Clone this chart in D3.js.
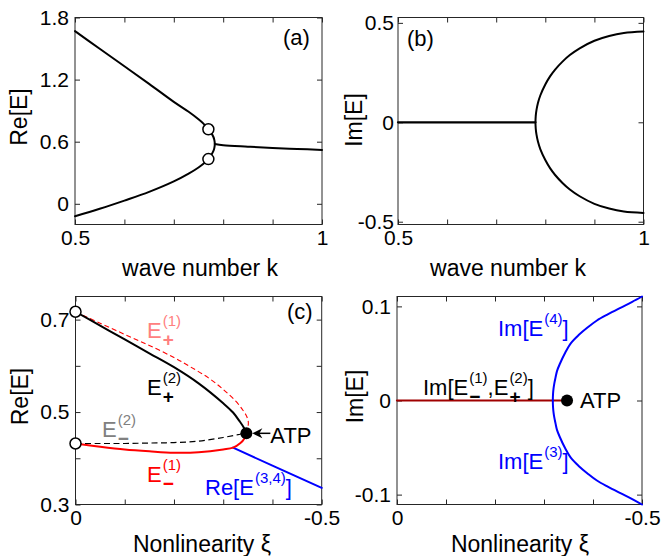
<!DOCTYPE html>
<html><head><meta charset="utf-8">
<script src="https://cdn.jsdelivr.net/npm/d3@7"></script>
<style>
body{margin:0;background:#fff}
svg text{font-family:"Liberation Sans",Arial,Helvetica,sans-serif}
</style>
</head><body>
<svg id="chart" width="665" height="556"></svg>
<script>
// ---------- Panel (a): Re[E] vs wave number k ----------
const kRe      = [0.5, 0.55, 0.6, 0.65, 0.7, 0.73, 0.75, 0.76, 0.77, 0.775, 0.78, 0.782, 0.783];
const reUpper  = [1.668, 1.498, 1.329, 1.159, 0.985, 0.889, 0.817, 0.775, 0.72, 0.69, 0.648, 0.618, 0.578];
const reLower  = [-0.12, -0.048, 0.031, 0.115, 0.216, 0.291, 0.351, 0.387, 0.432, 0.465, 0.508, 0.538, 0.578];
const kReMerged  = [0.783, 0.8, 0.85, 0.9, 0.95, 1.0];
const reMerged   = [0.578, 0.566, 0.552, 0.540, 0.530, 0.521];
const kMarked    = [0.77, 0.77];
const reMarked   = [0.72, 0.432];
const aYTicks = [0, 0.6, 1.2, 1.8];
const aYLabels = ["0", "0.6", "1.2", "1.8"];
const kTicks = [0.5, 0.6, 0.7, 0.8, 0.9, 1.0];
const kLabels = ["0.5", "", "", "", "", "1"];

// ---------- Panel (b): Im[E] vs wave number k ----------
const kImZero = [0.5, 0.78];
const imZero  = [0, 0];
const kIm     = [0.78, 0.7805, 0.782, 0.785, 0.79, 0.80, 0.81, 0.82, 0.835, 0.85, 0.87, 0.9, 0.93, 0.96, 1.0];
const imUpper = [0, 0.031, 0.061, 0.097, 0.136, 0.19, 0.232, 0.265, 0.305, 0.338, 0.372, 0.41, 0.434, 0.449, 0.456];
const imLower = [0, -0.031, -0.061, -0.097, -0.136, -0.19, -0.232, -0.265, -0.305, -0.338, -0.372, -0.41, -0.434, -0.449, -0.456];
const bYTicks = [-0.5, 0, 0.5];
const bYLabels = ["-0.5", "0", "0.5"];

// ---------- Panel (c): Re[E] vs nonlinearity xi ----------
const xiEp2 = [0, -0.05, -0.1, -0.15, -0.2, -0.25, -0.3, -0.32, -0.334, -0.342, -0.347];
const reEp2 = [0.717, 0.687, 0.657, 0.627, 0.597, 0.562, 0.519, 0.499, 0.479, 0.466, 0.454];
const xiEp1 = [0, -0.05, -0.1, -0.15, -0.2, -0.233, -0.27, -0.3, -0.325, -0.34, -0.348, -0.351, -0.35, -0.347];
const reEp1 = [0.717, 0.692, 0.668, 0.644, 0.618, 0.598, 0.574, 0.549, 0.524, 0.504, 0.49, 0.478, 0.466, 0.454];
const xiEm1 = [0, -0.05, -0.1, -0.15, -0.2, -0.25, -0.3, -0.32, -0.335, -0.343, -0.347];
const reEm1 = [0.432, 0.425, 0.419, 0.415, 0.412, 0.413, 0.419, 0.423, 0.433, 0.443, 0.454];
const xiEm2 = [0, -0.05, -0.1, -0.15, -0.2, -0.25, -0.3, -0.33, -0.343, -0.347];
const reEm2 = [0.432, 0.432, 0.432, 0.433, 0.434, 0.437, 0.445, 0.451, 0.454, 0.454];
const xiE34 = [-0.32, -0.4, -0.5];
const reE34 = [0.423, 0.384, 0.336];
const xiStart = [0, 0];
const reStart = [0.717, 0.432];
const xiATP = -0.347;
const reATP = 0.454;
const cYTicks = [0.3, 0.4, 0.5, 0.6, 0.7];
const cYLabels = ["0.3", "", "0.5", "", "0.7"];
const xiTicks = [0, -0.1, -0.2, -0.3, -0.4, -0.5];
const xiLabels = ["0", "", "", "", "", "-0.5"];

// ---------- Panel (d): Im[E] vs nonlinearity xi ----------
const xiImReal = [0, -0.342];
const imReal   = [0, 0];
const xiIm34 = [-0.5, -0.48, -0.456, -0.43, -0.408, -0.39, -0.3707, -0.355, -0.3435, -0.332, -0.3265, -0.3235, -0.321, -0.3195, -0.3185, -0.318];
const imE4   = [0.1105, 0.1048, 0.0985, 0.0915, 0.085, 0.078, 0.0695, 0.061, 0.051, 0.0385, 0.0312, 0.0243, 0.018, 0.0128, 0.0074, 0];
const imE3   = [-0.1105, -0.1048, -0.0985, -0.0915, -0.085, -0.078, -0.0695, -0.061, -0.051, -0.0385, -0.0312, -0.0243, -0.018, -0.0128, -0.0074, 0];
const dYTicks = [-0.1, 0, 0.1];
const dYLabels = ["-0.1", "0", "0.1"];

// ---------- drawing ----------
const svg = d3.select("#chart");
const AX = "#262626";
const TICK_FS = 21, TITLE_FS = 23, LABEL_FS = 22;

function panel(o) {
  const g = svg.append("g");
  const x = d3.scaleLinear().domain(o.xd).range([o.x0, o.x1]);
  const y = d3.scaleLinear().domain(o.yd).range([o.y1, o.y0]);
  const styleAxis = sel => {
    sel.select(".domain").remove();
    sel.selectAll("line").attr("stroke", AX).attr("stroke-width", 1);
    sel.selectAll("text").attr("font-size", TICK_FS).attr("fill", "#000")
      .attr("font-family", '"Liberation Sans",Arial,sans-serif');
  };
  g.append("g").attr("transform", `translate(0,${o.y1})`)
    .call(d3.axisBottom(x).tickValues(o.xt).tickFormat((d, i) => o.xl[i]).tickSizeInner(-5).tickSizeOuter(0).tickPadding(6))
    .call(styleAxis);
  g.append("g").attr("transform", `translate(0,${o.y0})`)
    .call(d3.axisTop(x).tickValues(o.xt).tickFormat("").tickSizeInner(-5).tickSizeOuter(0))
    .call(styleAxis);
  g.append("g").attr("transform", `translate(${o.x0},0)`)
    .call(d3.axisLeft(y).tickValues(o.yt).tickFormat((d, i) => o.yl[i]).tickSizeInner(-5).tickSizeOuter(0).tickPadding(o.yPad || 6))
    .call(styleAxis);
  g.append("g").attr("transform", `translate(${o.x1},0)`)
    .call(d3.axisRight(y).tickValues(o.yt).tickFormat("").tickSizeInner(-5).tickSizeOuter(0))
    .call(styleAxis);
  g.append("rect").attr("x", o.x0).attr("y", o.y0).attr("width", o.x1 - o.x0).attr("height", o.y1 - o.y0)
    .attr("fill", "none").attr("stroke", AX).attr("stroke-width", 1);
  g.append("text").attr("transform", `translate(${o.ytx},${(o.y0 + o.y1) / 2 + (o.ytdy || 0)}) rotate(-90)`)
    .attr("text-anchor", "middle").attr("font-size", TITLE_FS).text(o.ytitle);
  g.append("text").attr("x", o.xtx).attr("y", o.xty).attr("text-anchor", "middle").attr("font-size", TITLE_FS).text(o.xtitle);
  return {g, x, y};
}

function line(p, xs, ys, color, width, dash, curve) {
  const pts = xs.map((v, i) => [v, ys[i]]);
  const gen = d3.line().x(d => p.x(d[0])).y(d => p.y(d[1])).curve(curve || d3.curveCatmullRom.alpha(0.5));
  const path = p.g.append("path").attr("d", gen(pts)).attr("fill", "none")
    .attr("stroke", color).attr("stroke-width", width).attr("stroke-linejoin", "round").attr("stroke-linecap", "round");
  if (dash) path.attr("stroke-dasharray", dash).attr("stroke-linecap", "butt");
  return path;
}

function rich(g, x, y, parts, color, size) {
  let cx = x;
  const t = g.append("g").attr("fill", color);
  parts.forEach(p => {
    if (typeof p === "string") {
      const el = t.append("text").attr("x", cx).attr("y", y).attr("font-size", size).text(p);
      cx += el.node().getComputedTextLength();
    } else {
      let w = 0;
      if (p.sup) {
        const e = t.append("text").attr("x", cx + 1).attr("y", y - 12).attr("font-size", 15).text(p.sup);
        w = Math.max(w, e.node().getComputedTextLength() + 1);
      }
      if (p.sub) {
        const e = t.append("text").attr("x", cx + 1).attr("y", y + 8).attr("font-size", 19)
          .attr("font-weight", "bold").text(p.sub);
        w = Math.max(w, e.node().getComputedTextLength() + 1);
      }
      cx += w;
    }
  });
}

// ----- (a)
const pa = panel({xd: [0.5, 1], yd: [-0.2, 1.8], x0: 75, x1: 322, y0: 17.5, y1: 224.5,
  xt: kTicks, xl: kLabels, yt: aYTicks, yl: aYLabels, ytdy: -4,
  ytitle: "Re[E]", ytx: 27, xtitle: "wave number k", xtx: 200, xty: 276});
{
  const xs = kRe.concat(kRe.slice(0, -1).reverse());
  const ys = reUpper.concat(reLower.slice(0, -1).reverse());
  line(pa, xs, ys, "#000", 2);
  line(pa, kReMerged, reMerged, "#000", 2);
  kMarked.forEach((k, i) => pa.g.append("circle").attr("cx", pa.x(k)).attr("cy", pa.y(reMarked[i])).attr("r", 5.5)
    .attr("fill", "#fff").attr("stroke", "#000").attr("stroke-width", 1.5));
  pa.g.append("text").attr("x", 283).attr("y", 45).attr("font-size", LABEL_FS).text("(a)");
}

// ----- (b)
const pb = panel({xd: [0.5, 1], yd: [-0.514, 0.527], x0: 398, x1: 643.5, y0: 17.5, y1: 224.5,
  xt: kTicks, xl: kLabels, yt: bYTicks, yl: bYLabels, yPad: 4, ytdy: -1,
  ytitle: "Im[E]", ytx: 362, xtitle: "wave number k", xtx: 508, xty: 276});
{
  line(pb, kImZero, imZero, "#000", 2.2, null, d3.curveLinear);
  const xs = kIm.slice().reverse().concat(kIm.slice(1));
  const ys = imUpper.slice().reverse().concat(imLower.slice(1));
  line(pb, xs, ys, "#000", 2);
  pb.g.append("text").attr("x", 407).attr("y", 45.5).attr("font-size", LABEL_FS).text("(b)");
}

// ----- (c)
const pc = panel({xd: [0, -0.5], yd: [0.3, 0.75], x0: 75.5, x1: 321.7, y0: 296.5, y1: 504.5,
  xt: xiTicks, xl: xiLabels, yt: cYTicks, yl: cYLabels, ytdy: -4,
  ytitle: "Re[E]", ytx: 27.5, xtitle: "Nonlinearity \u03be", xtx: 202, xty: 552});
{
  line(pc, xiE34, reE34, "#0000ff", 2, null, d3.curveLinear);
  line(pc, xiEm1, reEm1, "#ff0000", 2);
  line(pc, xiEp1, reEp1, "#ff0000", 1.1, "5,3");
  line(pc, xiEm2, reEm2, "#000", 1.2, "6,3.5");
  line(pc, xiEp2, reEp2, "#000", 2);
  const ax = pc.x(xiATP), ay = pc.y(reATP);
  pc.g.append("circle").attr("cx", ax).attr("cy", ay).attr("r", 6).attr("fill", "#000");
  pc.g.append("line").attr("x1", ax + 10).attr("y1", ay).attr("x2", ax + 24).attr("y2", ay)
    .attr("stroke", "#000").attr("stroke-width", 1.5);
  pc.g.append("path").attr("d", `M${ax + 6},${ay} L${ax + 16},${ay - 5} L${ax + 13},${ay} L${ax + 16},${ay + 5} Z`)
    .attr("fill", "#000");
  pc.g.append("text").attr("x", ax + 24).attr("y", ay + 10).attr("font-size", LABEL_FS).text("ATP");
  xiStart.forEach((v, i) => pc.g.append("circle").attr("cx", pc.x(v)).attr("cy", pc.y(reStart[i])).attr("r", 5.5)
    .attr("fill", "#fff").attr("stroke", "#000").attr("stroke-width", 1.5));
  pc.g.append("text").attr("x", 287).attr("y", 319).attr("font-size", LABEL_FS).text("(c)");
  rich(pc.g, 147, 338, ["E", {sup: "(1)", sub: "+"}], "#ff8080", LABEL_FS);
  rich(pc.g, 147, 395, ["E", {sup: "(2)", sub: "+"}], "#000", LABEL_FS);
  rich(pc.g, 102, 437, ["E", {sup: "(2)", sub: "\u2212"}], "#808080", LABEL_FS);
  rich(pc.g, 147, 482, ["E", {sup: "(1)", sub: "\u2212"}], "#ff0000", LABEL_FS);
  rich(pc.g, 205, 495, ["Re[E", {sup: "(3,4)"}, "]"], "#0000ff", LABEL_FS);
}

// ----- (d)
const pd = panel({xd: [0, -0.5], yd: [-0.1105, 0.1105], x0: 397, x1: 642, y0: 296.5, y1: 504.5,
  xt: xiTicks, xl: xiLabels, yt: dYTicks, yl: dYLabels, ytdy: -4,
  ytitle: "Im[E]", ytx: 363, xtitle: "Nonlinearity \u03be", xtx: 520, xty: 552});
{
  line(pd, xiImReal, imReal, "#a00000", 2.2, null, d3.curveLinear);
  const xs = xiIm34.concat(xiIm34.slice(0, -1).reverse());
  const ys = imE4.concat(imE3.slice(0, -1).reverse());
  line(pd, xs, ys, "#0000ff", 2);
  pd.g.append("circle").attr("cx", pd.x(xiATP)).attr("cy", pd.y(0)).attr("r", 6).attr("fill", "#000");
  pd.g.append("text").attr("x", 580).attr("y", 407.5).attr("font-size", LABEL_FS).text("ATP");
  rich(pd.g, 498, 336, ["Im[E", {sup: "(4)"}, "]"], "#0000ff", LABEL_FS);
  rich(pd.g, 498, 469, ["Im[E", {sup: "(3)"}, "]"], "#0000ff", LABEL_FS);
  rich(pd.g, 423, 395, ["Im[E", {sup: "(1)", sub: "\u2212"}, ",E", {sup: "(2)", sub: "+"}, "]"], "#000", LABEL_FS);
}
</script>
</body></html>
